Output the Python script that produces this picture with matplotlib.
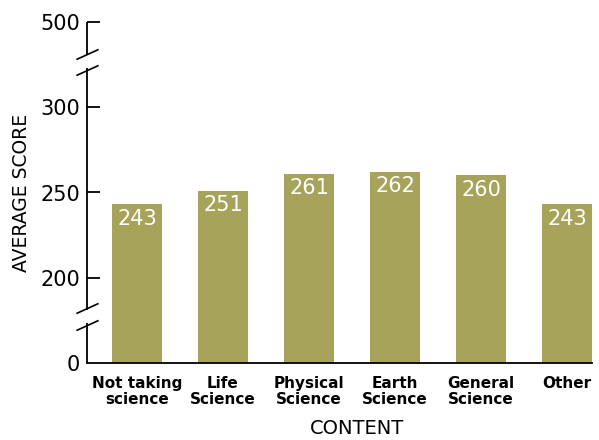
import numpy as np
import matplotlib
matplotlib.use("Agg")
import matplotlib.pyplot as plt
from matplotlib.path import Path
from matplotlib import font_manager

categories = ["Not taking\nscience", "Life\nScience", "Physical\nScience",
              "Earth\nScience", "General\nScience", "Other"]
scores = [243, 251, 261, 262, 260, 243]
ytick_values = [0, 200, 250, 300, 500]
ytick_labels = ["0", "200", "250", "300", "500"]

BAR_COLOR = "#A8A35A"

# find a condensed / narrow font if one exists
cond_name = None
for f in font_manager.fontManager.ttflist:
    n = f.name
    if ("Narrow" in n or "Condensed" in n or f.stretch in ("condensed", "semi-condensed")):
        cond_name = n
        break
cat_family = [cond_name, "DejaVu Sans"] if cond_name else ["DejaVu Sans"]

# piecewise (broken) y scale
_real = [0, 200, 300, 500]
_scaled = [0, 50, 150, 200]

def fwd(v):
    return np.interp(v, _real, _scaled)

def inv(v):
    return np.interp(v, _scaled, _real)

fig = plt.figure(figsize=(5.99, 4.40), dpi=100)
ax = fig.add_axes([87 / 599, 77 / 440, (592 - 87) / 599, (363 - 22) / 440])
ax.set_yscale("function", functions=(fwd, inv))

x = np.arange(len(categories))
ax.bar(x, scores, width=0.58, color=BAR_COLOR, zorder=2)
ax.set_xlim(-0.58, 5.29)
ax.set_ylim(0, 500)

for xi, s in zip(x, scores):
    ax.annotate(str(s), (xi, s), xytext=(0, -3), textcoords="offset points",
                ha="center", va="top", color="white", fontsize=15)

# spines
for side in ["top", "right", "left"]:
    ax.spines[side].set_visible(False)
ax.spines["bottom"].set_linewidth(1.3)
ax.spines["bottom"].set_zorder(3)

# left axis line drawn in segments with breaks
xl = ax.get_xlim()[0]
seg_kw = dict(color="black", lw=1.3, clip_on=False, zorder=3, solid_capstyle="butt")
ax.plot([xl, xl], [0, 94], **seg_kw)
ax.plot([xl, xl], [124, 392], **seg_kw)
ax.plot([xl, xl], [422, 500], **seg_kw)

slash = Path([(-1, -0.4545), (1, 0.4545)], [Path.MOVETO, Path.LINETO])
for yb in [90, 129, 387, 426]:
    ax.plot([xl], [yb], marker=slash, markersize=16, markeredgewidth=1.2,
            color="black", clip_on=False, zorder=4, linestyle="none")

ax.set_yticks(ytick_values)
ax.set_yticklabels(ytick_labels)
ax.tick_params(axis="y", direction="in", length=9, width=1.3, labelsize=15, pad=5)
ax.yaxis.get_major_ticks()[0].tick1line.set_visible(False)
ax.yaxis.set_minor_locator(matplotlib.ticker.NullLocator())

ax.set_xticks(x)
ax.set_xticklabels(categories, fontsize=11, fontweight="bold",
                   family=cat_family, linespacing=1.1)
ax.tick_params(axis="x", length=0, pad=9)

ax.set_ylabel("AVERAGE SCORE", fontsize=13.5, labelpad=7)
ax.set_xlabel("CONTENT", fontsize=14)
ax.xaxis.set_label_coords(0.535, -0.165)

fig.savefig("out.png", dpi=100)
